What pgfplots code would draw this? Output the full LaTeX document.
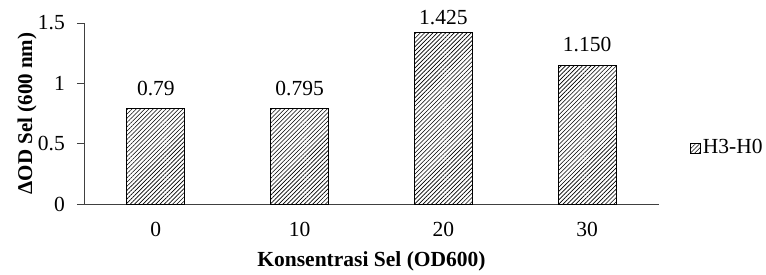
\documentclass[border=0pt]{standalone}
\usepackage{pgfplots}
\pgfplotsset{compat=1.18}
\usepackage{pgfplotstable}
\usepackage{fontspec}
\setmainfont{Liberation Serif}
\usetikzlibrary{patterns.meta}
\pgfplotstableread{
x val lab off
0 0.79 0.79 5
1 0.795 0.795 5
2 1.425 1.425 0
3 1.150 1.150 6
}\datatable
\begin{document}
\fontsize{21}{25}\selectfont
\begin{tikzpicture}[x=1pt,y=1pt]
\path[use as bounding box] (0,0) rectangle (766,275);
\begin{axis}[
  at={(84pt,71pt)}, anchor=south west,
  scale only axis, width=575pt, height=181pt,
  xmin=-0.5, xmax=3.5, ymin=0, ymax=1.5,
  axis lines=left, axis line style={black!75, line width=0.8pt, -},
  xtick=data, xticklabels={0,10,20,30},
  ytick={0,0.5,1,1.5},
  yticklabels={0,0.5,1,1.5},
  x tick style={draw=none},
  y tick style={black!75, line width=0.8pt},
  tick align=outside, major tick length=7pt,
  xticklabel style={yshift=-4pt},
  yticklabel style={xshift=-5pt},
  ticklabel style={font=\fontsize{21.5}{25}\selectfont},
  /pgf/number format/assume math mode=true,
  xlabel={\textbf{Konsentrasi Sel (OD600)}},
  xlabel style={at={(axis description cs:0.5,0)}, anchor=base, yshift=-63pt, font=\fontsize{21.5}{25}\selectfont},
  ylabel={\textbf{ΔOD Sel (600 nm)}},
  ylabel style={at={(axis description cs:-0.0904,0.5)}, anchor=base, font=\fontsize{21}{24}\selectfont},
  ybar, bar width=58pt,
  legend style={at={(axis description cs:1.054,0.309)}, anchor=west, draw=none, fill=none, inner sep=0pt, font=\fontsize{21.5}{25}\selectfont, legend cell align=left},
  legend image code/.code={\draw[#1,draw=black,line width=0.6pt] (0pt,-5pt) rectangle (10pt,5pt);},
  clip=false,
]
\addplot[draw=black, line width=0.8pt, pattern={Lines[angle=45,distance=3pt,line width=0.6pt]},
  point meta=explicit symbolic,
  visualization depends on={\thisrow{off} \as \myoff},
  nodes near coords,
  nodes near coords style={font=\fontsize{21.5}{25}\selectfont, yshift=\myoff pt, text=black}
] table[x=x,y=val,meta=lab] {\datatable};
\addlegendentry{H3-H0}
\end{axis}
\end{tikzpicture}
\end{document}
